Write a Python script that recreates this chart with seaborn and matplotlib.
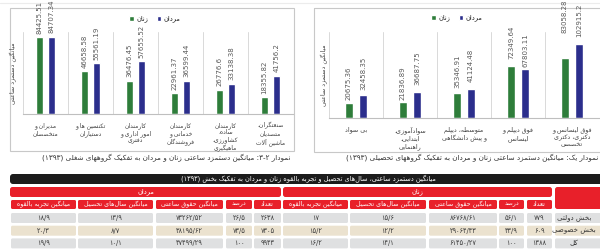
import re
import numpy as np
import pandas as pd
import matplotlib
matplotlib.use('Agg')
import matplotlib.pyplot as plt
from matplotlib.patches import FancyBboxPatch, Rectangle
import seaborn as sns

# chart 3-2 : occupational groups
job_groups = ['مدیران و\nمتخصصان', 'تکنسین ها و\nدستیاران', 'کارمندان\nامور اداری و\nدفتری',
              'کارمندان\nخدماتی و\nفروشندگان', 'کارمندان\nساده،\nکشاورزی،\nماهیگیری',
              'صنعتگران،\nمتصدیان\nماشین آلات']
job_women = [84425.51, 46658.58, 36476.45, 22961.37, 26776.6, 18355.82]
job_men = [84707.34, 55561.19, 57655.52, 36599.44, 33138.38, 41756.2]

# chart 1 : education groups
edu_groups = ['بی سواد', 'سوادآموزی،\nابتدایی،\nراهنمایی', 'متوسطه، دیپلم\nو پیش دانشگاهی',
              'فوق دیپلم و\nلیسانس', 'فوق لیسانس و\nدکتری، دکتری\nتخصصی']
edu_women = [20675.36, 21836.89, 35346.91, 72349.64, 83058.28]
edu_men = [32458.35, 36687.75, 41124.48, 67803.11, 102915.2]

sex = ['زنان', 'مردان']
ylabel = 'میانگین دستمزد ساعتی'
cap_job = 'نمودار 3-2: میانگین دستمزد ساعتی زنان و مردان به تفکیک گروههای شغلی (1393)'
cap_edu = 'نمودار یک: میانگین دستمزد ساعتی زنان و مردان به تفکیک گروههای تحصیلی (1393)'

# table
tab_title = 'میانگین دستمزد ساعتی، سال\u200cهای تحصیل و تجربه بالقوه زنان و مردان به تفکیک بخش (1393)'
sectors = ['بخش دولتی', 'بخش خصوصی', 'کل']
col_names = ['میانگین تجربه بالقوه', 'میانگین سال\u200cهای تحصیل', 'میانگین حقوق ساعتی', 'درصد', 'تعداد']
men_exp = [18.9, 20.3, 19.9]
men_edu = [13.9, 8.7, 10.1]
men_wage = [73262.52, 38195.62, 47499.29]
men_pct = [26.5, 73.5, 100]
men_count = [2638, 7305, 9943]
women_exp = [17, 15.2, 16.2]
women_edu = [15.6, 12.2, 14.1]
women_wage = [86768.61, 29064.43, 61450.27]
women_pct = [56.1, 43.9, 100]
women_count = [779, 609, 1388]

GREEN = '#2e7d3a'
BLUE = '#2b2e8c'
RED = '#e8202a'
ROWC = ['#dfe0e1', '#ebe2cf', '#dfe0e1']

# --- persian shaping (matplotlib has no text shaping) ---
FORMS = {'ء': (0xFE80, 1), 'آ': (0xFE81, 2), 'أ': (0xFE83, 2), 'ؤ': (0xFE85, 2), 'إ': (0xFE87, 2),
         'ئ': (0xFE89, 4), 'ا': (0xFE8D, 2), 'ب': (0xFE8F, 4), 'ة': (0xFE93, 2), 'ت': (0xFE95, 4),
         'ث': (0xFE99, 4), 'ج': (0xFE9D, 4), 'ح': (0xFEA1, 4), 'خ': (0xFEA5, 4), 'د': (0xFEA9, 2),
         'ذ': (0xFEAB, 2), 'ر': (0xFEAD, 2), 'ز': (0xFEAF, 2), 'س': (0xFEB1, 4), 'ش': (0xFEB5, 4),
         'ص': (0xFEB9, 4), 'ض': (0xFEBD, 4), 'ط': (0xFEC1, 4), 'ظ': (0xFEC5, 4), 'ع': (0xFEC9, 4),
         'غ': (0xFECD, 4), 'ف': (0xFED1, 4), 'ق': (0xFED5, 4), 'ك': (0xFED9, 4), 'ل': (0xFEDD, 4),
         'م': (0xFEE1, 4), 'ن': (0xFEE5, 4), 'ه': (0xFEE9, 4), 'و': (0xFEED, 2), 'ى': (0xFEEF, 2),
         'ي': (0xFEF1, 4), 'پ': (0xFB56, 4), 'چ': (0xFB7A, 4), 'ژ': (0xFB8A, 2), 'ک': (0xFB8E, 4),
         'گ': (0xFB92, 4), 'ی': (0xFBFC, 4)}
FA_DIG = str.maketrans('0123456789.', ''.join(chr(0x06F0 + i) for i in range(10)) + '/')


def shape(s):
    out = []
    i = 0
    while i < len(s):
        c = s[i]
        prev = s[i-1] if i > 0 else ''
        jp = prev in FORMS and FORMS[prev][1] == 4
        if c == 'ل' and i + 1 < len(s) and s[i+1] in 'اآ':
            base = 0xFEFB if s[i+1] == 'ا' else 0xFEF5
            out.append(chr(base + int(jp)))
            i += 2
            continue
        if c in FORMS:
            base, k = FORMS[c]
            nxt = s[i+1] if i + 1 < len(s) else ''
            jn = k == 4 and nxt in FORMS and FORMS[nxt][1] > 1
            idx = 0 if k == 1 else {(0, 0): 0, (1, 0): 1, (0, 1): 2, (1, 1): 3}[(int(jp), int(jn))]
            out.append(chr(base + idx))
        elif c != '\u200c':
            out.append(c)
        i += 1
    return ''.join(out)


def fa(s, digits=True):
    if digits:
        s = s.translate(str.maketrans('0123456789', ''.join(chr(0x06F0 + i) for i in range(10))))
    res = []
    for line in s.split('\n'):
        t = shape(line)[::-1]
        t = re.sub('[0-9\u06f0-\u06f9][0-9\u06f0-\u06f9/.\\-]*[0-9\u06f0-\u06f9]|[0-9\u06f0-\u06f9]',
                   lambda m: m.group(0)[::-1], t)
        res.append(t.translate(str.maketrans('()', ')(')))
    return '\n'.join(res)


def num_fa(v):
    s = str(v)
    if s.endswith('.0'):
        s = s[:-2]
    return s.translate(FA_DIG)


sns.set_style('white')
plt.rcParams['font.family'] = ['DejaVu Sans']

W, H = 600, 249
fig = plt.figure(figsize=(6, 2.49), dpi=100)


def px(x0, y0, x1, y1):
    return [x0 / W, 1 - y1 / H, (x1 - x0) / W, (y1 - y0) / H]


tb = fig.add_axes([0, 0, 1, 1], zorder=0)
tb.set_xlim(0, W)
tb.set_ylim(H, 0)
tb.axis('off')

ax1 = fig.add_axes(px(23, 32, 293, 114), zorder=2)
ax2 = fig.add_axes(px(329, 32, 599, 118), zorder=2)


def bar_chart(ax, cats, women, men, ymax, pads, lpad, lsp, fs, leg_xy):
    df = pd.DataFrame({'cat': cats * 2,
                       'sex': [sex[0]] * len(cats) + [sex[1]] * len(cats),
                       'val': women + men})
    sns.barplot(data=df, x='cat', y='val', hue='sex', order=cats, hue_order=sex,
                palette=[GREEN, BLUE], width=0.52, gap=0.46, errorbar=None,
                saturation=1, ax=ax)
    ax.set_facecolor('none')
    ax.set_ylim(0, ymax)
    ax.set_xlim(-0.5, len(cats) - 0.5)
    for cont, vals, pp in zip(ax.containers, [women, men], pads):
        txts = ax.bar_label(cont, labels=[str(v) for v in vals], rotation=90, padding=2,
                            fontsize=5, color='#595959',
                            family=['Liberation Sans Narrow', 'DejaVu Sans'])
        for t, p in zip(txts, pp):
            t.xyann = (0, p)
    ax.set_xticks(np.arange(-0.5, len(cats)), minor=True)
    ax.grid(which='minor', axis='x', color='#d9d9d9', lw=0.7)
    ax.grid(which='major', visible=False)
    ax.set_xticks(range(len(cats)))
    ax.set_xticklabels([fa(c) for c in cats], fontsize=fs, color='#404040', linespacing=lsp)
    ax.tick_params(which='both', length=0)
    ax.tick_params(axis='x', pad=6)
    ax.set_yticks([])
    ax.set_xlabel('')
    ax.set_ylabel(fa(ylabel), fontsize=4.6, color='#404040', labelpad=lpad)
    for s in ['top', 'left', 'right']:
        ax.spines[s].set_visible(False)
    ax.spines['bottom'].set_color('#bfbfbf')
    ax.spines['bottom'].set_linewidth(0.8)
    handles, labels = ax.get_legend_handles_labels()
    ax.legend(handles, [fa(l) for l in labels], loc='center', bbox_to_anchor=leg_xy,
              bbox_transform=fig.transFigure, ncol=2, frameon=False, fontsize=4.8,
              handlelength=0.7, handleheight=0.7, handletextpad=0.4, columnspacing=1.2)


bar_chart(ax1, job_groups, job_women, job_men, 90000,
          [[2.5] * 6, [2.5] * 6], 4, 1.25, 4.3, (155 / W, 1 - 19 / H))
bar_chart(ax2, edu_groups, edu_women, edu_men, 120000,
          [[2, 2, 3.5, 5, 18.5], [3.5, 5, 5, 2, 5.5]], 1, 1.35, 4.6, (457 / W, 1 - 18 / H))

# chart frames and captions
tb.add_patch(Rectangle((10, 8), 284, 143, fill=False, ec='#c8c8c8', lw=0.8))
tb.add_patch(Rectangle((314, 8), 300, 144, fill=False, ec='#c8c8c8', lw=0.8))
tb.plot([0, W], [3, 3], color='#ececec', lw=0.8)
tb.text(290, 158, fa(cap_job), ha='right', va='center', fontsize=5.2, color='#333333')
tb.text(598, 158, fa(cap_edu), ha='right', va='center', fontsize=5.2, color='#333333')


def cell(x0, x1, y0, y1, color, text='', tcolor='white', fs=4.8, r=1.5):
    tb.add_patch(FancyBboxPatch((x0, y0), x1 - x0, y1 - y0,
                                boxstyle=f'round,pad=0,rounding_size={r}', fc=color, ec='none'))
    if text:
        tb.text((x0 + x1) / 2, (y0 + y1) / 2, text, ha='center', va='center',
                color=tcolor, fontsize=fs)


# table
cell(10, 610, 174, 184, '#1c1c1c', fa(tab_title), fs=4.8, r=3)
tb.texts[-1].set_x(308)
men_cols = [(11, 76), (78, 153), (156, 223), (226, 252), (254, 281)]
women_cols = [(283, 348), (350, 426), (429, 497), (499, 524), (527, 552)]
row_y = [(213, 223), (225.7, 235.7), (238.4, 248.4)]
cell(10, 281, 187, 197, RED, fa(sex[1]), r=2.5)
cell(283, 552, 187, 197, RED, fa(sex[0]), r=2.5)
cell(555, 610, 187, 209, RED, r=2.5)
men_data = [men_exp, men_edu, men_wage, men_pct, men_count]
women_data = [women_exp, women_edu, women_wage, women_pct, women_count]
for cols, data in [(men_cols, men_data), (women_cols, women_data)]:
    for (x0, x1), name, vals in zip(cols, col_names, data):
        cell(x0, x1, 200, 209, RED, fa(name), fs=4.6)
        for (y0, y1), v, rc in zip(row_y, vals, ROWC):
            cell(x0, x1, y0, y1, rc, num_fa(v), tcolor='#3a3a3a', fs=4.8)
for (y0, y1), name, rc in zip(row_y, sectors, ROWC):
    cell(555, 610, y0, y1, rc)
    tb.text(574, (y0 + y1) / 2, fa(name), ha='center', va='center', fontsize=5, color='#333333')

fig.savefig('out.png', dpi=100, facecolor='white')
